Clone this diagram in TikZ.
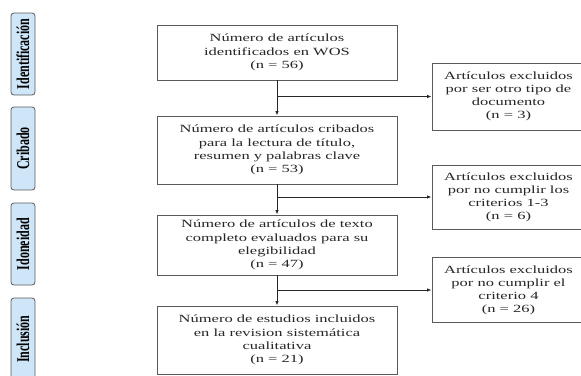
\documentclass[tikz,border=0pt]{standalone}
\usepackage{fontspec}
\setmainfont{Liberation Serif}
\newfontfamily\widefont[FakeStretch=1.5]{Liberation Serif}
\usetikzlibrary{arrows.meta}
\definecolor{boxline}{HTML}{5A5A5A}
\definecolor{stagefill}{HTML}{CFE6F8}
\begin{document}
\begin{tikzpicture}[x=1pt,y=-1pt,
  mainbox/.style={draw=boxline,line width=0.9pt,minimum width=240pt,inner sep=0pt,align=center,
    font=\widefont\fontsize{11}{13.3}\selectfont,text=black!85},
  exclbox/.style={draw=boxline,line width=0.9pt,minimum width=153pt,inner sep=0pt,align=center,
    font=\widefont\fontsize{11}{13}\selectfont,text=black!85},
  stagebox/.style={draw=boxline,fill=stagefill,line width=0.8pt,rounded corners=3pt,minimum width=24pt,inner sep=0pt},
  stagetext/.style={rotate=90,font=\bfseries\fontsize{12}{12}\selectfont,inner sep=0pt},
  arr/.style={draw=black!85,line width=0.9pt,-{Latex[length=4.5pt,width=3.5pt]}},
  conn/.style={draw=boxline,line width=0.9pt}]
\useasboundingbox (0,0) rectangle (581,375);
% stage boxes
\node[stagebox,minimum height=82pt] (s1) at (23,54) {};
\node[stagebox,minimum height=83pt] (s2) at (23,148.5) {};
\node[stagebox,minimum height=82pt] (s3) at (23,244) {};
\node[stagebox,minimum height=82pt] (s4) at (23,339) {};
\node[stagetext] (t1) at (s1.center) {\scalebox{1}[1.5]{Identificación}};
\node[stagetext] (t2) at (s2.center) {\scalebox{1}[1.5]{Cribado}};
\node[stagetext] (t3) at (s3.center) {\scalebox{1}[1.5]{Idoneidad}};
\node[stagetext] (t4) at (s4.center) {\scalebox{1}[1.5]{Inclusión}};
% main boxes
\node[mainbox,minimum height=55pt] (b1) at (277,52.5) {Número de artículos\\identificados en WOS\\(n = 56)};
\node[mainbox,minimum height=68pt] (b2) at (277,150) {Número de artículos cribados\\para la lectura de título,\\resumen y palabras clave\\(n = 53)};
\node[mainbox,minimum height=60pt] (b3) at (277,245) {Número de artículos de texto\\completo evaluados para su\\elegibilidad\\(n = 47)};
\node[mainbox,minimum height=68pt] (b4) at (277,340) {Número de estudios incluidos\\en la revision sistemática\\cualitativa\\(n = 21)};
% exclusion boxes
\node[exclbox,minimum height=67pt] (e1) at (508.5,96.5) {Artículos excluidos\\por ser otro tipo de\\documento\\(n = 3)};
\node[exclbox,minimum height=64pt] (e2) at (508.5,197) {Artículos excluidos\\por no cumplir los\\criterios 1-3\\(n = 6)};
\node[exclbox,minimum height=65pt] (e3) at (508.5,290) {Artículos excluidos\\por no cumplir el\\criterio 4\\(n = 26)};
% connectors
\draw[arr] (b1) -- (b2);
\draw[arr] (b2) -- (b3);
\draw[arr] (b3) -- (b4);
\coordinate (j1) at (e1.west -| b1.south);
\coordinate (j2) at (e2.west -| b2.south);
\coordinate (j3) at (e3.west -| b3.south);
\draw[arr] (j1) -- (e1.west);
\draw[arr] (j2) -- (e2.west);
\draw[arr] (j3) -- (e3.west);
\end{tikzpicture}
\end{document}
